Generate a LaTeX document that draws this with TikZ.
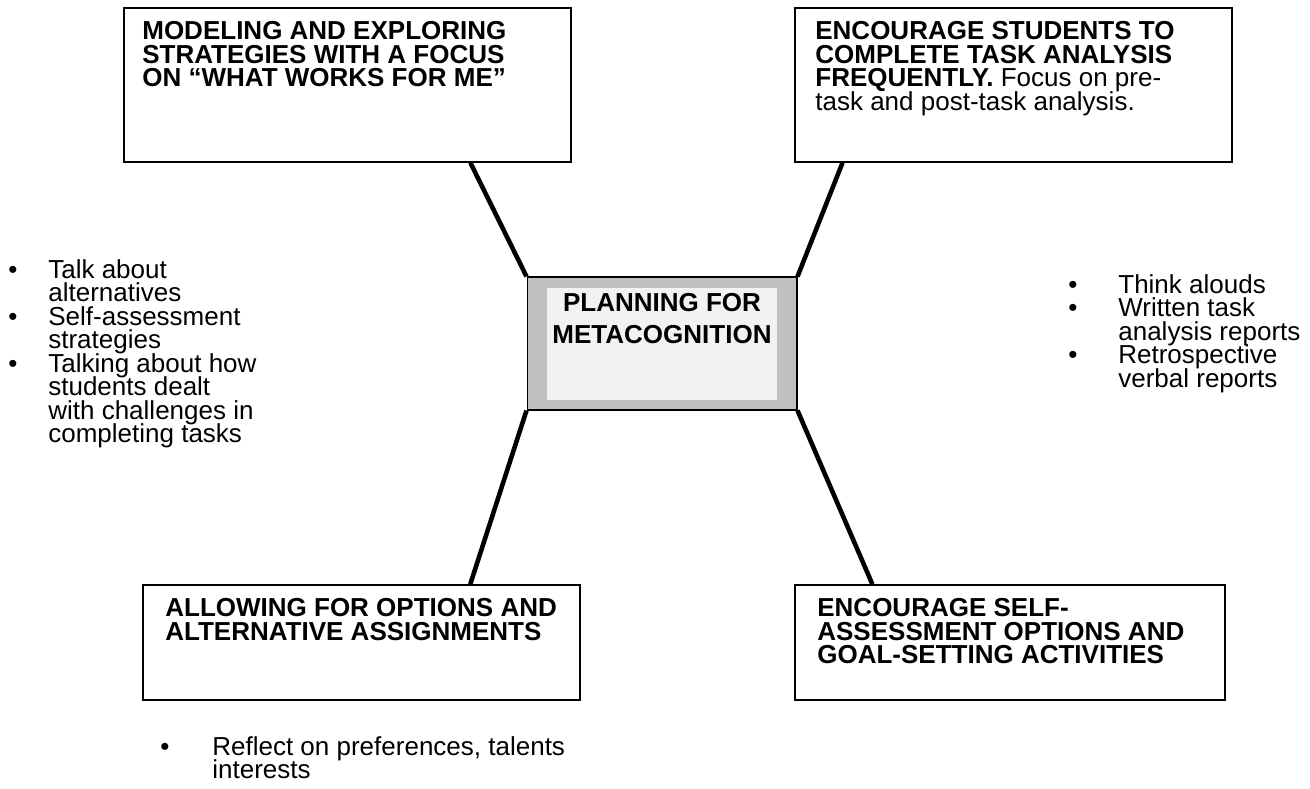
\documentclass[tikz,border=0pt]{standalone}
\usepackage{fontspec}
\setmainfont{Liberation Sans}
\usetikzlibrary{calc}

\definecolor{hubgray}{HTML}{C0C0C0}
\definecolor{hubpale}{HTML}{F2F2F2}

\newcommand\txtfont{\fontsize{14.8pt}{13.4pt}\selectfont\lineskiplimit=-20pt\relax}
\newcommand\hubfont{\fontsize{14.8pt}{18.2pt}\selectfont\bfseries}

\tikzset{
    box/.style={draw, line width=0.9pt, inner sep=0pt},
    boxtext/.style={anchor=north west, align=left, inner sep=0pt, font=\txtfont\bfseries},
    item/.style={anchor=north west, align=left, inner sep=0pt, font=\txtfont},
    dot/.style={anchor=base, inner sep=0pt, font=\txtfont},
    link/.style={line width=2.6pt},
}

\begin{document}
\begin{tikzpicture}[x=0.02cm, y=-0.02cm]
    \useasboundingbox (0,0) rectangle (1310,788);

    %% Central box
    \node[box, line width=0.6pt, fill=hubgray, minimum width=5.4cm, minimum height=2.66cm] (hub) at (662,343.5) {};
    \node[inner sep=0pt, fill=hubpale, minimum width=4.6cm, minimum height=2.24cm] (hubin) at (662,344) {};
    \node[anchor=north, align=center, inner sep=0pt, font=\hubfont] (hubtext) at (662,293) {PLANNING FOR\\METACOGNITION};

    %% Outer boxes
    \node[box, minimum width=8.94cm, minimum height=3.08cm] (tl) at (347.5,85) {};
    \node[box, minimum width=8.74cm, minimum height=3.08cm] (tr) at (1013.5,85) {};
    \node[box, minimum width=8.74cm, minimum height=2.3cm] (bl) at (361.5,642.5) {};
    \node[box, minimum width=8.6cm, minimum height=2.3cm] (br) at (1010,642.5) {};

    % Box texts
    \node[boxtext] (tltext) at (142,21) {MODELING AND EXPLORING\\STRATEGIES WITH A FOCUS\\ON “WHAT WORKS FOR ME”};
    \node[boxtext] (trtext) at (815,21) {ENCOURAGE STUDENTS TO\\COMPLETE TASK ANALYSIS\\FREQUENTLY. \textnormal{Focus on pre-}\\\textnormal{task and post-task analysis.}};
    \node[boxtext] (bltext) at (165,598) {ALLOWING FOR OPTIONS AND\\ALTERNATIVE ASSIGNMENTS};
    \node[boxtext] (brtext) at (817,598) {ENCOURAGE SELF-\\ASSESSMENT OPTIONS AND\\GOAL-SETTING ACTIVITIES};

    %% Connectors
    \draw[link] ($(tl.south west)!0.774!(tl.south east)$) -- (hub.north west);
    \draw[link] ($(tr.south west)!0.110!(tr.south east)$) -- (hub.north east);
    \draw[link] (hub.south west) -- ($(bl.north west)!0.748!(bl.north east)$);
    \draw[link] (hub.south east) -- ($(br.north west)!0.181!(br.north east)$);

    %% Left list
    \node[dot] (l1dot) at (13,278) {•};
    \node[item] (l1) at (48,259) {Talk about\\alternatives};
    \node[dot] (l2dot) at (13,325) {•};
    \node[item] (l2) at (48,306) {Self-assessment\\strategies};
    \node[dot] (l3dot) at (13,372) {•};
    \node[item] (l3) at (48,353) {Talking about how\\students dealt\\with challenges in\\completing tasks};

    %% Right list
    \node[dot] (r1dot) at (1073,293) {•};
    \node[item] (r1) at (1118,274) {Think alouds};
    \node[dot] (r2dot) at (1073,316.5) {•};
    \node[item] (r2) at (1118,297.5) {Written task\\analysis reports};
    \node[dot] (r3dot) at (1073,363.5) {•};
    \node[item] (r3) at (1118,344.5) {Retrospective\\verbal reports};

    %% Bottom list
    \node[dot] (b1dot) at (165,755) {•};
    \node[item] (b1) at (212,736) {Reflect on preferences, talents\\interests};

\end{tikzpicture}
\end{document}
